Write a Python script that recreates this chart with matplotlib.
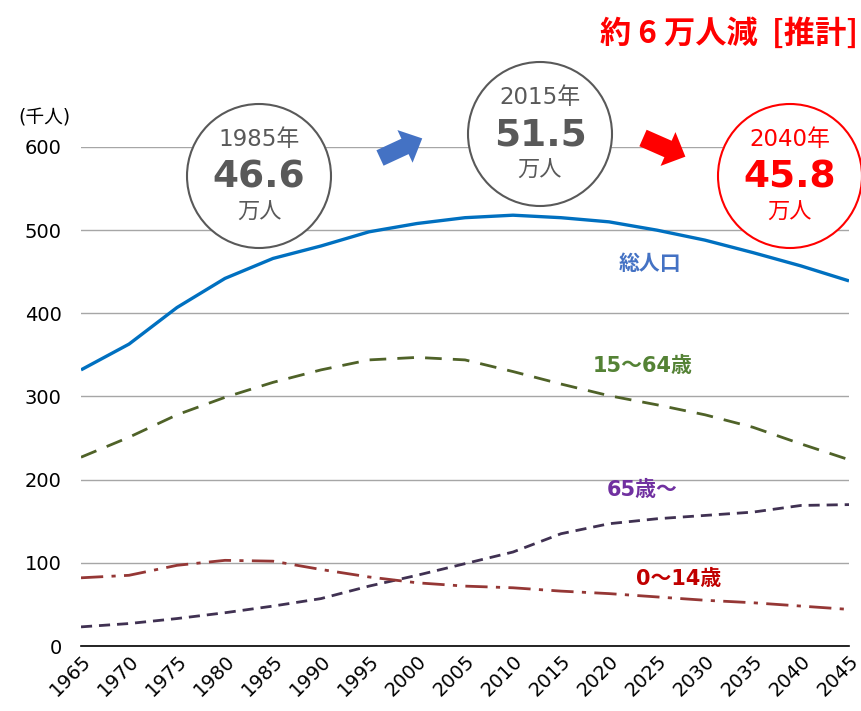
import numpy as np
import matplotlib.pyplot as plt
from matplotlib.patches import Circle, FancyArrow

plt.rcParams['font.family'] = ['DejaVu Sans', 'Noto Sans CJK JP']

# データ（千人）
years = list(range(1965, 2050, 5))
total = [332, 363, 407, 442, 466, 481, 498, 508, 515, 518, 515, 510, 500, 488, 473, 457, 439]
age_15_64 = [227, 251, 278, 299, 317, 332, 344, 347, 344, 330, 315, 301, 290, 278, 263, 243, 224]
age_65 = [23, 27, 33, 40, 48, 57, 72, 85, 99, 113, 135, 147, 153, 157, 161, 169, 170]
age_0_14 = [82, 85, 97, 103, 102, 92, 83, 76, 72, 70, 66, 63, 59, 55, 52, 48, 44]

circle_years = ['1985年', '2015年', '2040年']
circle_values = ['46.6', '51.5', '45.8']

W, H = 861, 711
fig = plt.figure(figsize=(W / 100, H / 100), dpi=100)
ax = fig.add_axes([81 / W, 1 - 646 / H, (849 - 81) / W, (646 - 147) / H])

ax.plot(years, total, color='#0070C0', lw=2.4, solid_capstyle='butt')
ax.plot(years, age_15_64, color='#4F6228', lw=2.0, dashes=(6, 4))
ax.plot(years, age_65, color='#403152', lw=2.0, dashes=(4, 2.5))
ax.plot(years, age_0_14, color='#953735', lw=2.0, dashes=(8, 3, 1.5, 3))

ax.set_xlim(1965, 2045)
ax.set_ylim(0, 600)
ax.set_xticks(years)
ax.set_xticklabels([str(y) for y in years], rotation=45, ha='right', rotation_mode='anchor', fontsize=14)
ax.set_yticks(range(0, 700, 100))
ax.tick_params(axis='y', labelsize=14, length=0, pad=14)
ax.tick_params(axis='x', length=0, pad=4)
ax.grid(axis='y', color='#A6A6A6', lw=1.0)
ax.set_axisbelow(True)
for s in ['top', 'right', 'left']:
    ax.spines[s].set_visible(False)
ax.spines['bottom'].set_color('black')
ax.spines['bottom'].set_linewidth(1.2)

# 系列名
ax.text(2024.3, 459, '総人口', color='#4472C4', fontsize=15, fontweight='bold', ha='center', va='center')
ax.text(2023.5, 337, '15～64歳', color='#548235', fontsize=15, fontweight='bold', ha='center', va='center')
ax.text(2023.5, 188, '65歳～', color='#7030A0', fontsize=15, fontweight='bold', ha='center', va='center')
ax.text(2027.3, 81, '0～14歳', color='#C00000', fontsize=15, fontweight='bold', ha='center', va='center')

# 注記レイヤー（ピクセル座標）
ov = fig.add_axes([0, 0, 1, 1], facecolor='none')
ov.set_xlim(0, W)
ov.set_ylim(H, 0)
ov.axis('off')

ov.text(44, 118, '(千人)', fontsize=13.5, ha='center', va='center')
ov.text(858, 34, '約 6 万人減  [推計]', color='#FF0000', fontsize=22.5, fontweight='bold',
        ha='right', va='center', family=['Noto Sans CJK JP'])

centers = [(259, 176), (540, 134), (790, 176)]
for (cx, cy), yr, val, i in zip(centers, circle_years, circle_values, range(3)):
    col = '#FF0000' if i == 2 else '#595959'
    ov.add_patch(Circle((cx, cy), 72, facecolor='white', edgecolor=col, lw=1.5, zorder=3))
    ov.text(cx, cy - 36, yr, color=col, fontsize=16.5, ha='center', va='center', zorder=4)
    ov.text(cx, cy + 1, val, color=col, fontsize=27, fontweight='bold', ha='center', va='center', zorder=4)
    ov.text(cx, cy + 37, '万人', color=col, fontsize=16, ha='center', va='center', zorder=4)

ov.add_patch(FancyArrow(380, 158, 25, -11.6, width=17, head_width=36, head_length=19,
                        length_includes_head=False, color='#4472C4', lw=0, zorder=4))
ov.add_patch(FancyArrow(643, 138, 25, 11, width=18, head_width=37, head_length=19,
                        length_includes_head=False, color='#FF0000', lw=0, zorder=4))

fig.savefig('out.png', dpi=100)
